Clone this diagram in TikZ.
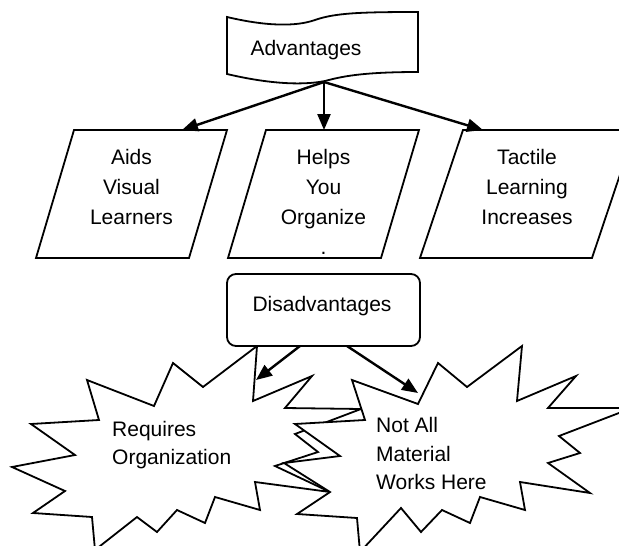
\documentclass[tikz,border=0pt]{standalone}
\usepackage{fontspec}
\setmainfont{Liberation Sans}
\usetikzlibrary{arrows.meta}
\begin{document}
\begin{tikzpicture}[x=1pt,y=-1pt,
  shp/.style={draw=black, line width=1.8pt, fill=white, line join=miter},
  arr/.style={draw=black, line width=2.4pt, -{Triangle[length=16pt,width=13pt]}},
  lbl/.style={inner sep=0pt, align=center, font=\fontsize{21}{30}\selectfont},
  lbll/.style={inner sep=0pt, align=left, anchor=west, font=\fontsize{21}{28.5}\selectfont}]
\fill[white] (0,0) rectangle (619,546);
\useasboundingbox (0,0) rectangle (619,546);
\begin{scope}
\clip (0,0) rectangle (619,546);
% Advantages (tape shape)
\draw[shp] (227,17) .. controls (265,26) and (295,27) .. (315,20)
  .. controls (335,13) and (360,12) .. (418,12) -- (418,72)
  .. controls (360,72) and (340,77) .. (325,81)
  .. controls (300,86) and (265,83) .. (227,74) -- cycle;
\node[lbl] (adv) at (306,50) {Advantages};
\coordinate (advb) at (324,82);
% parallelograms
\draw[shp] (74,130) -- (227,130) -- (189,258) -- (36,258) -- cycle;
\draw[shp] (266,130) -- (419,130) -- (381,258) -- (228,258) -- cycle;
\draw[shp] (463,130) -- (635,130) -- (592,258) -- (420,258) -- cycle;
\node[lbl] (aids) at (131.5,187) {Aids\\Visual\\Learners};
\node[lbl] (helps) at (323.5,202) {Helps\\You\\Organize\\.};
\node[lbl] (tact) at (527,187) {Tactile\\Learning\\Increases};
\coordinate (p1t) at (182,130);
\coordinate (p2t) at (324,130);
\coordinate (p3t) at (483,130);
% left star
\draw[shp] (257,346) -- (253,401) -- (312,376) -- (285,408) -- (361,409)
  -- (295,434) -- (318,452) -- (275,466) -- (330,492) -- (255,482)
  -- (260,510) -- (215,497) -- (205,523) -- (177,510) -- (157,532)
  -- (137,517) -- (95,550) -- (92,517) -- (33,513) -- (65,491)
  -- (12,467) -- (75,455) -- (31,424) -- (99,420) -- (87,380)
  -- (154,406) -- (173,363) -- (203,387) -- cycle;
% right star
\draw[shp] (352,380) -- (418,404) -- (438,363) -- (467,387) -- (522,346)
  -- (517,401) -- (576,376) -- (548,408) -- (632,408) -- (559,436)
  -- (580,453) -- (548,463) -- (590,493) -- (520,482) -- (525,510)
  -- (480,497) -- (470,523) -- (442,510) -- (421,532) -- (401,508)
  -- (360,552) -- (357,518) -- (297,514) -- (330,492) -- (284,463)
  -- (340,456) -- (295,424) -- (365,420) -- cycle;
\node[lbll] (req) at (112,445) {Requires\\Organization};
\node[lbll] (notall) at (376,453.5) {Not All\\Material\\Works Here};
% Disadvantages box
\draw[shp, rounded corners=9pt] (227,274) rectangle (420,346);
\node[lbl] (dis) at (322,306) {Disadvantages};
\coordinate (disb1) at (300,346);
\coordinate (disb2) at (347,346);
\coordinate (s1) at (256,380);
\coordinate (s2) at (418,393);
% arrows
\draw[arr] (advb) -- (p1t);
\draw[arr] (advb) -- (p2t);
\draw[arr] (advb) -- (p3t);
\draw[arr] (disb1) -- (s1);
\draw[arr] (disb2) -- (s2);
\end{scope}
\end{tikzpicture}
\end{document}
